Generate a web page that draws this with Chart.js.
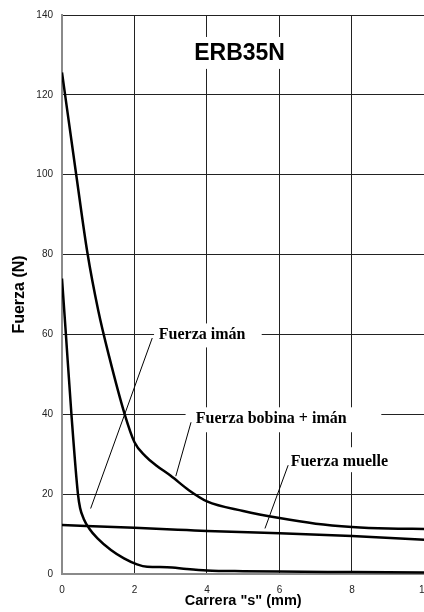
<!DOCTYPE html>
<html>
<head>
<meta charset="utf-8">
<script src="https://cdn.jsdelivr.net/npm/chart.js@4/dist/chart.umd.min.js"></script>
<style>
  html, body { margin: 0; padding: 0; background: #fff; overflow: hidden; }
  #wrap { width: 440px; height: 612px; }
</style>
</head>
<body>
<div id="wrap"><canvas id="chart" width="440" height="612"></canvas></div>
<script>
// carrera (mm) / fuerza (N)
const bobinaX = [0, 0.4, 0.7, 1.0, 1.3, 1.73, 2.0, 2.3, 2.6, 3.0, 3.5, 4.0, 5.0, 6.0, 7.0, 8.0, 9.0, 10];
const bobinaY = [125.6, 99.5, 80.5, 66, 54.5, 40, 33, 29.5, 27.2, 24.6, 21, 18.2, 15.8, 14, 12.6, 11.8, 11.4, 11.3];

const imanX = [0, 0.1, 0.26, 0.44, 0.5, 0.6, 0.75, 0.98, 1.35, 1.71, 2.07, 2.35, 2.9, 3.44, 4.0, 5.0, 6.0, 8.0, 10];
const imanY = [74, 61, 40, 20, 16.5, 13.8, 11.4, 8.9, 6, 3.9, 2.4, 1.8, 1.7, 1.25, 0.9, 0.7, 0.6, 0.5, 0.4];

const muelleX = [0, 2, 3.44, 4, 6, 8, 10];
const muelleY = [12.25, 11.6, 11, 10.75, 10.2, 9.5, 8.6];

const xTicks = [0, 2, 4, 6, 8, 10];
const yTicks = [0, 20, 40, 60, 80, 100, 120, 140];

const toPoints = (xs, ys) => xs.map((x, i) => ({ x, y: ys[i] }));

// labels inside the plot, in data units
const notes = [
    { text: 'Fuerza imán', x: 2.67, y: 58.75, box: [2.54, 5.51, 62.75, 56.75], line: [2.49, 59.1, 0.79, 16.4] },
    { text: 'Fuerza bobina + imán', x: 3.69, y: 37.8, box: [3.41, 8.81, 41.75, 35.5], line: [3.56, 38.0, 3.14, 24.5] },
    { text: 'Fuerza muelle', x: 6.31, y: 27, box: [6.16, 9.08, 31.75, 25.5], line: [6.24, 27.25, 5.6, 11.4] }
];
const heading = { text: 'ERB35N', x: 4.9, y: 128.7, box: [3.49, 6.35, 134.5, 126.5] };

const notesPlugin = {
    id: 'notes',
    beforeDatasetsDraw(chart) {
        const { ctx, scales: { x, y } } = chart;
        const px = v => x.getPixelForValue(v);
        const py = v => y.getPixelForValue(v);
        ctx.save();
        ctx.fillStyle = '#fff';
        [heading, ...notes].forEach(n => {
            const [x0, x1, y0, y1] = n.box;
            ctx.fillRect(px(x0), py(y0), px(x1) - px(x0), py(y1) - py(y0));
        });
        ctx.fillStyle = '#000';
        ctx.textBaseline = 'alphabetic';
        ctx.font = 'bold 23px "Liberation Sans", Arial, sans-serif';
        ctx.textAlign = 'center';
        ctx.fillText(heading.text, px(heading.x), py(heading.y));
        ctx.font = 'bold 16px "Liberation Serif", "Times New Roman", serif';
        ctx.textAlign = 'left';
        ctx.strokeStyle = '#000';
        ctx.lineWidth = 1;
        notes.forEach(n => {
            ctx.fillText(n.text, px(n.x), py(n.y));
            const [ax, ay, bx, by] = n.line;
            ctx.beginPath();
            ctx.moveTo(px(ax), py(ay));
            ctx.lineTo(px(bx), py(by));
            ctx.stroke();
        });
        ctx.restore();
    }
};

const curve = (data) => ({
    data,
    borderColor: '#000',
    borderWidth: 2.5,
    pointRadius: 0,
    fill: false,
    cubicInterpolationMode: 'monotone'
});

new Chart(document.getElementById('chart'), {
    type: 'line',
    data: {
        datasets: [
            curve(toPoints(bobinaX, bobinaY)),
            curve(toPoints(imanX, imanY)),
            curve(toPoints(muelleX, muelleY))
        ]
    },
    options: {
        responsive: false,
        animation: false,
        devicePixelRatio: 1,
        layout: { padding: { top: 14, right: 11.3, left: 0, bottom: 0 } },
        plugins: {
            legend: { display: false },
            tooltip: { enabled: false }
        },
        scales: {
            x: {
                type: 'linear',
                min: 0,
                max: 10,
                afterBuildTicks: s => { s.ticks = xTicks.map(v => ({ value: v })); },
                afterFit: s => { s.height = 38; },
                grid: { color: '#222', lineWidth: 1, drawTicks: false },
                border: { color: '#8a8a8a', width: 2 },
                ticks: {
                    padding: 10,
                    color: '#222',
                    font: { family: '"Liberation Sans", Arial, sans-serif', size: 10 },
                    maxRotation: 0
                },
                title: {
                    display: true,
                    text: 'Carrera "s" (mm)',
                    color: '#000',
                    padding: { top: 0, bottom: 2.3 },
                    font: { family: '"Liberation Sans", Arial, sans-serif', size: 14.5, weight: 'bold' }
                }
            },
            y: {
                min: 0,
                max: 140,
                afterBuildTicks: s => { s.ticks = yTicks.map(v => ({ value: v })); },
                afterFit: s => { s.width = 62; },
                grid: { color: '#222', lineWidth: 1, drawTicks: false },
                border: { color: '#8a8a8a', width: 2 },
                ticks: {
                    padding: 9,
                    color: '#222',
                    font: { family: '"Liberation Sans", Arial, sans-serif', size: 10 }
                },
                title: {
                    display: true,
                    text: 'Fuerza (N)',
                    color: '#000',
                    padding: { top: 10.4, bottom: 0 },
                    font: { family: '"Liberation Sans", Arial, sans-serif', size: 16, weight: 'bold' }
                }
            }
        }
    },
    plugins: [notesPlugin]
});
</script>
</body>
</html>
